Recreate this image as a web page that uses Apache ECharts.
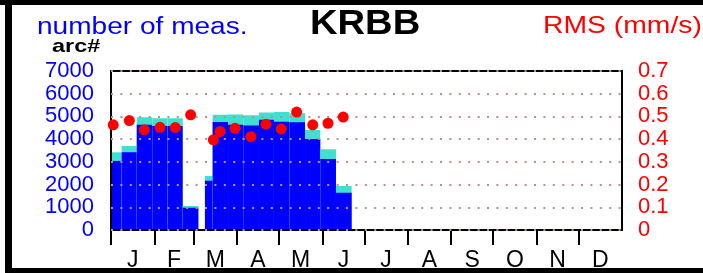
<!DOCTYPE html>
<html>
<head>
<meta charset="utf-8">
<script src="https://cdn.jsdelivr.net/npm/echarts@6/dist/echarts.min.js"></script>
<style>
  html, body { margin: 0; padding: 0; background: #fff; }
  #krbb { width: 703px; height: 273px; }
</style>
</head>
<body>
<div id="krbb"></div>
<script>
// month axis (day of year)
const monthNames = ["J", "F", "M", "A", "M", "J", "J", "A", "S", "O", "N", "D"];
const monthStart = [0, 31, 59, 90, 120, 151, 181, 212, 243, 273, 304, 334];
const monthMid = [15.5, 45, 74.5, 105, 135.5, 166, 196.5, 227.5, 258, 288.5, 319, 349.5];

// bars: period start / end (day of year)
const barStart = [0, 7.6, 18.4, 29.5, 40.4, 51.2, 67.1, 72.6, 83.6, 94.5, 105.7, 116.4, 127.4, 138.6, 149.5, 160.7];
const barEnd = [7.6, 18.4, 29.5, 40.4, 51.2, 62.4, 72.6, 83.6, 94.5, 105.7, 116.4, 127.4, 138.6, 149.5, 160.7, 171.9];
// arc# (blue) and total number of meas. (cyan top)
const arcCount = [3040, 3420, 4630, 4580, 4580, 980, 2170, 4760, 4630, 4600, 4850, 4770, 4740, 4010, 3130, 1640];
const measTotal = [3420, 3700, 4960, 4920, 4920, 1060, 2380, 5070, 5080, 5050, 5170, 5190, 5140, 4400, 3560, 1940];

// RMS (mm/s)
const rmsDay = [1.6, 13.1, 23.8, 35.0, 45.9, 56.9, 73.1, 77.9, 88.6, 100.0, 110.7, 121.6, 132.6, 144.1, 155.0, 165.9];
const rmsValue = [0.463, 0.482, 0.441, 0.452, 0.451, 0.507, 0.397, 0.434, 0.448, 0.411, 0.466, 0.445, 0.519, 0.463, 0.470, 0.497];

const chart = echarts.init(document.getElementById("krbb"), null, { renderer: "canvas" });

const barData = barStart.map((s, i) => [s, barEnd[i], arcCount[i], measTotal[i]]);
const rmsData = rmsDay.map((d, i) => [d, rmsValue[i]]);

const font = "Liberation Sans, Arial, sans-serif";

const option = {
  animation: false,
  grid: {
    left: 111,
    right: 81,
    top: 71,
    bottom: 43,
    show: true,
    borderColor: "#000",
    borderWidth: 2,
    backgroundColor: "transparent",
    z: 2,
  },
  graphic: [
    { type: "rect", shape: { x: 0, y: 0, width: 703, height: 5 }, style: { fill: "#000" } },
    { type: "rect", shape: { x: 5, y: 0, width: 7, height: 273 }, style: { fill: "#000" } },
    { type: "rect", shape: { x: 5, y: 268, width: 698, height: 5 }, style: { fill: "#000" } },
    {
      type: "text", x: 37, y: 27.6, scaleX: 1.22,
      style: { text: "number of meas.", font: "23px " + font, fill: "#0000ff", verticalAlign: "middle" },
    },
    {
      type: "text", x: 310, y: 24.5, scaleX: 1.09,
      style: { text: "KRBB", font: "bold 35px " + font, fill: "#000", verticalAlign: "middle" },
    },
    {
      type: "text", x: 543, y: 26.3, scaleX: 1.18,
      style: { text: "RMS (mm/s)", font: "24px " + font, fill: "#ff0000", verticalAlign: "middle" },
    },
    {
      type: "text", x: 52, y: 47.3, scaleX: 1.26,
      style: { text: "arc#", font: "bold 18.6px " + font, fill: "#000", verticalAlign: "middle" },
    },
  ],
  xAxis: {
    type: "value",
    min: 0,
    max: 365,
    axisLine: { show: true, lineStyle: { color: "#000", width: 2 } },
    axisTick: {
      show: true,
      customValues: monthStart,
      length: 15,
      lineStyle: { color: "#000", width: 2 },
    },
    axisLabel: {
      customValues: monthMid,
      margin: 19,
      fontSize: 23,
      fontFamily: font,
      color: "#000",
      formatter: (v) => {
        let best = 0;
        monthMid.forEach((m, i) => {
          if (Math.abs(m - v) < Math.abs(monthMid[best] - v)) best = i;
        });
        return monthNames[best];
      },
    },
    splitLine: { show: false },
  },
  yAxis: [
    {
      type: "value",
      min: 0,
      max: 7000,
      interval: 1000,
      z: 2,
      axisLine: { show: false },
      axisTick: { show: false },
      axisLabel: {
        color: "#0000ff",
        fontSize: 22,
        fontFamily: font,
        margin: 17,
        formatter: (v) => String(v),
      },
      splitLine: {
        show: true,
        lineStyle: { color: "#bc8f8f", width: 2, type: [2, 7.4] },
      },
    },
    {
      type: "value",
      min: 0,
      max: 0.7,
      interval: 0.1,
      position: "right",
      axisLine: { show: false },
      axisTick: { show: false },
      axisLabel: {
        color: "#ff0000",
        fontSize: 22,
        fontFamily: font,
        margin: 16,
        formatter: (v) => String(Math.round(v * 10) / 10),
      },
      splitLine: { show: false },
    },
  ],
  series: [
    {
      type: "custom",
      z: 1,
      data: barData,
      renderItem: (params, api) => {
        const p0 = api.coord([api.value(0), 0]);
        const pArc = api.coord([api.value(1), api.value(2)]);
        const pTot = api.coord([api.value(1), api.value(3)]);
        const w = pArc[0] - p0[0];
        return {
          type: "group",
          children: [
            {
              type: "rect",
              shape: { x: p0[0], y: pTot[1], width: w, height: p0[1] - pTot[1] },
              style: { fill: "#40e0d0" },
            },
            {
              type: "rect",
              shape: { x: p0[0], y: pArc[1], width: w, height: p0[1] - pArc[1] },
              style: { fill: "#0000ff" },
            },
          ],
        };
      },
    },
    {
      type: "scatter",
      yAxisIndex: 1,
      z: 3,
      symbolSize: 11,
      itemStyle: { color: "#ff0000", opacity: 1 },
      data: rmsData,
    },
  ],
};

chart.setOption(option);
</script>
</body>
</html>
